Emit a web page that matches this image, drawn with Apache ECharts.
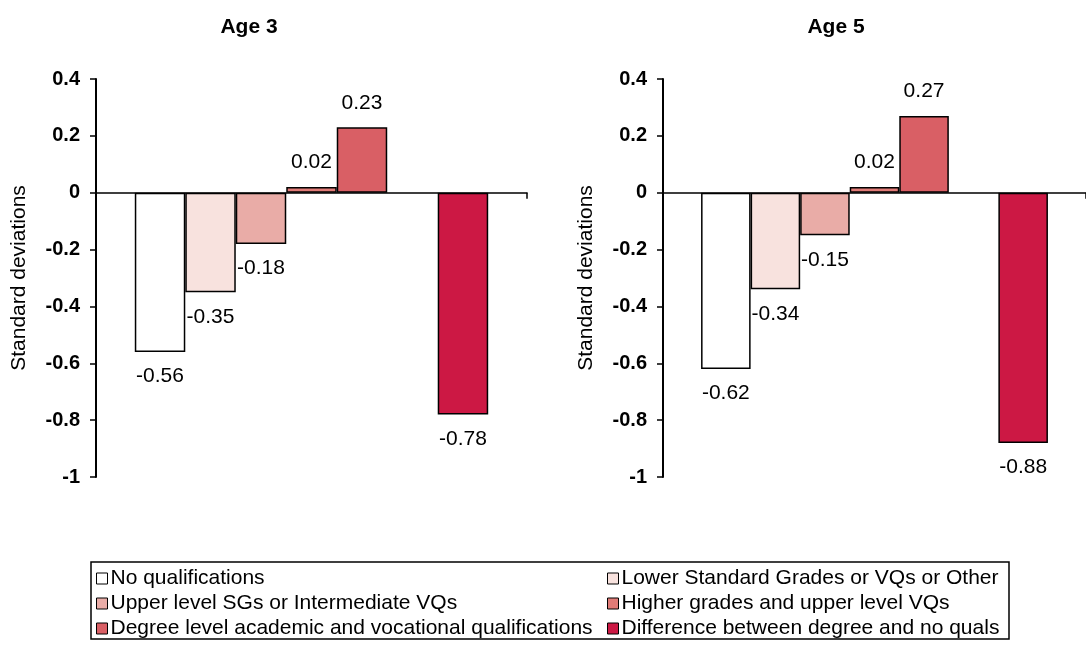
<!DOCTYPE html>
<html>
<head>
<meta charset="utf-8">
<script src="https://cdn.jsdelivr.net/npm/echarts@6/dist/echarts.min.js"></script>
<style>
html,body{margin:0;padding:0;background:#fff;}
#chart{width:1086px;height:646px;}
</style>
</head>
<body>
<div id="chart"></div>
<script>
// ---- data ----
const seriesNames = [
  'No qualifications',
  'Lower Standard Grades or VQs or Other',
  'Upper level SGs or Intermediate VQs',
  'Higher grades and upper level VQs',
  'Degree level academic and vocational qualifications',
  'Difference between degree and no quals'
];
const seriesColors = ['#ffffff', '#f8e2de', '#e9aca7', '#e07b77', '#d95f65', '#cc1844'];
const age3Values = [-0.56, -0.35, -0.18, 0.02, 0.23, -0.78];
const age5Values = [-0.62, -0.34, -0.15, 0.02, 0.27, -0.88];
const panelTitles = ['Age 3', 'Age 5'];
const yTicks = { min: -1, max: 0.4, interval: 0.2 };
const yAxisName = 'Standard deviations';
// ---------------

const FONT = 'Liberation Sans, Arial, sans-serif';
const chart = echarts.init(document.getElementById('chart'), null, { renderer: 'canvas' });

function makeSeries(values, axisIdx) {
  const out = [];
  for (let i = 0; i < seriesNames.length; i++) {
    if (i === 5) {
      // empty slot between degree bar and difference bar
      out.push({
        type: 'bar', name: '__gap' + axisIdx, xAxisIndex: axisIdx, yAxisIndex: axisIdx,
        data: [null], barGap: '0%', barCategoryGap: '18%', silent: true
      });
    }
    const v = values[i];
    out.push({
      type: 'bar',
      name: seriesNames[i],
      xAxisIndex: axisIdx,
      yAxisIndex: axisIdx,
      barGap: '0%',
      barCategoryGap: '18%',
      itemStyle: { color: seriesColors[i], borderColor: '#000', borderWidth: 1.5 },
      label: {
        show: true,
        position: v >= 0 ? 'top' : 'bottom',
        distance: 14,
        color: '#000',
        fontFamily: FONT,
        fontSize: 21,
        formatter: p => p.value.toFixed(2)
      },
      data: [v],
      animation: false
    });
  }
  return out;
}

function yAxisCfg(idx) {
  return {
    type: 'value', gridIndex: idx,
    min: yTicks.min, max: yTicks.max, interval: yTicks.interval,
    name: yAxisName, nameLocation: 'middle', nameGap: 66,
    nameTextStyle: { fontFamily: FONT, fontSize: 21, color: '#000' },
    axisLine: { show: true, lineStyle: { color: '#000', width: 2 } },
    axisTick: { show: true, length: 6, lineStyle: { color: '#000', width: 1.5 } },
    axisLabel: { fontFamily: FONT, fontSize: 20, fontWeight: 'bold', color: '#000', margin: 16 },
    splitLine: { show: false }
  };
}
function xAxisCfg(idx) {
  return {
    type: 'category', gridIndex: idx, data: [''],
    axisLine: { show: true, onZero: true, lineStyle: { color: '#000', width: 1.5 } },
    axisTick: { show: true, length: 6, lineStyle: { color: '#000', width: 1.5 } },
    axisLabel: { show: false },
    splitLine: { show: false }
  };
}

const legendCommon = {
  orient: 'vertical',
  itemWidth: 11, itemHeight: 11, itemGap: 4,
  icon: 'rect',
  textStyle: { fontFamily: FONT, fontSize: 21, color: '#000', padding: [0, 0, 0, -2], lineHeight: 21 },
  itemStyle: { borderColor: '#000', borderWidth: 1 },
  selectedMode: false,
  padding: 0
};

const option = {
  backgroundColor: '#fff',
  animation: false,
  grid: [
    { left: 96, top: 79, width: 431, height: 398 },
    { left: 663, top: 79, width: 428, height: 398 }
  ],
  xAxis: [xAxisCfg(0), xAxisCfg(1)],
  yAxis: [yAxisCfg(0), yAxisCfg(1)],
  legend: [
    Object.assign({}, legendCommon, { left: 96, top: 568, data: [seriesNames[0], seriesNames[2], seriesNames[4]] }),
    Object.assign({}, legendCommon, { left: 607, top: 568, data: [seriesNames[1], seriesNames[3], seriesNames[5]] })
  ],
  graphic: [
    { type: 'text', x: 249, y: 27, style: { text: panelTitles[0], fontFamily: FONT, fontSize: 21, fontWeight: 'bold', fill: '#000', textAlign: 'center', textVerticalAlign: 'middle' } },
    { type: 'text', x: 836, y: 27, style: { text: panelTitles[1], fontFamily: FONT, fontSize: 21, fontWeight: 'bold', fill: '#000', textAlign: 'center', textVerticalAlign: 'middle' } },
    { type: 'rect', shape: { x: 91, y: 562, width: 918, height: 77 }, style: { fill: 'none', stroke: '#000', lineWidth: 1.5 }, silent: true }
  ],
  series: makeSeries(age3Values, 0).concat(makeSeries(age5Values, 1))
};
chart.setOption(option);
</script>
</body>
</html>
